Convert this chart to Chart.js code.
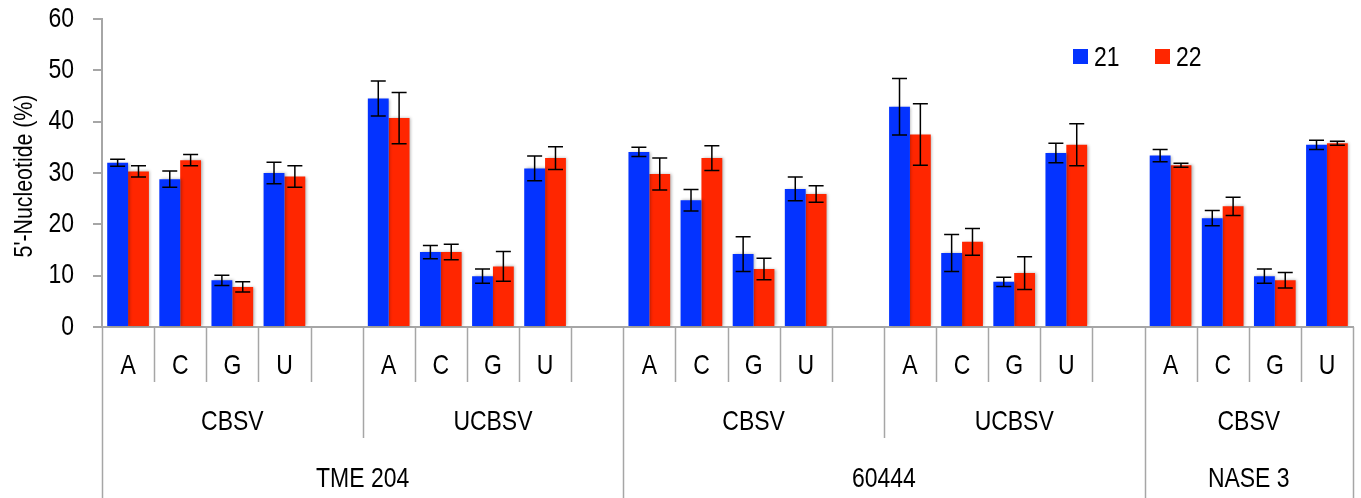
<!DOCTYPE html>
<html>
<head>
<meta charset="utf-8">
<script src="https://cdn.jsdelivr.net/npm/chart.js@4.4.1/dist/chart.umd.min.js"></script>
<style>
    html, body { margin: 0; padding: 0; background: #fff; }
    #wrap { position: relative; width: 1361px; height: 498px; }
</style>
</head>
<body>
<div id="wrap"><canvas id="nucleotideChart"></canvas></div>
<script>
// category rows (innermost first)
const nucleotideLabels = ["A", "C", "G", "U", "", "A", "C", "G", "U", "", "A", "C", "G", "U", "", "A", "C", "G", "U", "", "A", "C", "G", "U"];
const virusLabels = ["CBSV", "UCBSV", "CBSV", "UCBSV", "CBSV"];
const virusSpans = [5, 5, 5, 5, 4];
const cultivarLabels = ["TME 204", "60444", "NASE 3"];
const cultivarSpans = [10, 10, 4];

// series values (%) and error bar sizes
const seriesNames = ["21", "22"];
const values21 = [32.0, 28.8, 9.1, 30.0, null, 44.5, 14.6, 9.9, 30.9, null, 34.1, 24.7, 14.2, 26.9, null, 42.9, 14.4, 8.8, 33.9, null, 33.4, 21.2, 9.9, 35.5];
const errors21 = [0.7, 1.6, 1.0, 2.1, null, 3.4, 1.3, 1.4, 2.4, null, 0.9, 2.1, 3.4, 2.3, null, 5.5, 3.6, 0.9, 1.9, null, 1.2, 1.5, 1.4, 0.9];
const values22 = [30.3, 32.5, 7.8, 29.3, null, 40.7, 14.6, 11.8, 32.9, null, 29.8, 32.9, 11.3, 25.9, null, 37.5, 16.6, 10.5, 35.5, null, 31.5, 23.5, 9.1, 35.8];
const errors22 = [1.1, 1.1, 1.0, 2.1, null, 5.0, 1.5, 2.9, 2.2, null, 3.1, 2.4, 2.1, 1.6, null, 6.0, 2.6, 3.2, 4.1, null, 0.4, 1.8, 1.5, 0.4];

const yMin = 0, yMax = 60, yStep = 10;
const yTitle = "5'-Nucleotide (%)";

const colors = {
    blue: "#0433ff",
    red: "#ff2600",
    axis: "#a6a6a6",
    text: "#000",
};
const FONT = "'Liberation Sans', Arial, sans-serif";
const NARROW = 0.82; // the original uses a narrow Helvetica

// draw horizontally condensed text
function narrowText(ctx, text, x, y, align) {
    ctx.save();
    ctx.translate(x, y);
    ctx.scale(NARROW, 1);
    ctx.textAlign = align || "center";
    ctx.fillText(text, 0, 0);
    ctx.restore();
}

// drop shadow behind bars, like the Excel original
const barShadow = {
    id: "barShadow",
    beforeDatasetsDraw(chart) {
        const ctx = chart.ctx;
        ctx.save();
        ctx.shadowColor = "rgba(0,0,0,0.3)";
        ctx.shadowBlur = 3;
        ctx.shadowOffsetX = 1.5;
        ctx.shadowOffsetY = 0;
    },
    afterDatasetsDraw(chart) {
        chart.ctx.restore();
    },
};

const errorBars = {
    id: "errorBars",
    afterDatasetsDraw(chart) {
        const ctx = chart.ctx;
        const y = chart.scales.y;
        ctx.save();
        ctx.strokeStyle = "#000";
        ctx.lineWidth = 1.5;
        chart.data.datasets.forEach((ds, i) => {
            const meta = chart.getDatasetMeta(i);
            meta.data.forEach((bar, j) => {
                const v = ds.data[j], e = ds.errors[j];
                if (v == null || e == null) return;
                const top = y.getPixelForValue(v + e);
                const bot = y.getPixelForValue(v - e);
                const cap = 7.5;
                ctx.beginPath();
                ctx.moveTo(bar.x, top); ctx.lineTo(bar.x, bot);
                ctx.moveTo(bar.x - cap, top); ctx.lineTo(bar.x + cap, top);
                ctx.moveTo(bar.x - cap, bot); ctx.lineTo(bar.x + cap, bot);
                ctx.stroke();
            });
        });
        ctx.restore();
    },
};

// y tick labels and title, condensed
const yAxisText = {
    id: "yAxisText",
    afterDraw(chart) {
        const ctx = chart.ctx;
        const y = chart.scales.y;
        ctx.save();
        ctx.fillStyle = colors.text;
        ctx.textBaseline = "middle";
        ctx.font = "28px " + FONT;
        y.ticks.forEach(t => {
            narrowText(ctx, String(t.value), y.right - 28, y.getPixelForValue(t.value), "right");
        });
        ctx.font = "26px " + FONT;
        ctx.translate(25, (chart.chartArea.top + chart.chartArea.bottom) / 2 + 3);
        ctx.rotate(-Math.PI / 2);
        narrowText(ctx, yTitle, 0, 0, "center");
        ctx.restore();
    },
};

// three-level category axis drawn under the plot
const multiLevelAxis = {
    id: "multiLevelAxis",
    afterDraw(chart) {
        const ctx = chart.ctx;
        const x = chart.scales.x;
        const n = nucleotideLabels.length;
        const catW = x.width / n;
        const top = x.top;
        const rowBottoms = [top + 55, top + 111, chart.height];
        const rowText = [top + 39, top + 95, top + 152];
        const edge = (k) => x.left + k * catW;

        const starts = (spans) => {
            const out = [0];
            spans.forEach(s => out.push(out[out.length - 1] + s));
            return out;
        };
        const virusEdges = starts(virusSpans);
        const cultEdges = starts(cultivarSpans);

        ctx.save();
        ctx.strokeStyle = colors.axis;
        ctx.lineWidth = 1.5;
        for (let k = 0; k <= n; k++) {
            let bottom = rowBottoms[0];
            if (cultEdges.includes(k)) bottom = rowBottoms[2];
            else if (virusEdges.includes(k)) bottom = rowBottoms[1];
            const px = Math.round(edge(k)) + 0.5;
            ctx.beginPath();
            ctx.moveTo(px, top);
            ctx.lineTo(px, bottom);
            ctx.stroke();
        }

        ctx.fillStyle = colors.text;
        ctx.font = "28px " + FONT;
        ctx.textBaseline = "middle";
        nucleotideLabels.forEach((lab, k) => {
            if (lab) narrowText(ctx, lab, x.getPixelForValue(k), rowText[0]);
        });
        virusLabels.forEach((lab, i) => {
            const a = edge(virusEdges[i]), b = edge(virusEdges[i + 1]);
            narrowText(ctx, lab, (a + b) / 2, rowText[1]);
        });
        cultivarLabels.forEach((lab, i) => {
            const a = edge(cultEdges[i]), b = edge(cultEdges[i + 1]);
            narrowText(ctx, lab, (a + b) / 2, rowText[2]);
        });
        ctx.restore();
    },
};

const insideLegend = {
    id: "insideLegend",
    afterDraw(chart) {
        const ctx = chart.ctx;
        const xs = [1073, 1155];
        ctx.save();
        ctx.font = "28px " + FONT;
        ctx.textBaseline = "middle";
        chart.data.datasets.forEach((ds, i) => {
            ctx.fillStyle = ds.backgroundColor;
            ctx.fillRect(xs[i], 49, 15, 15);
            ctx.fillStyle = colors.text;
            narrowText(ctx, ds.label, xs[i] + 21, 58, "left");
        });
        ctx.restore();
    },
};

new Chart(document.getElementById("nucleotideChart").getContext("2d"), {
    type: "bar",
    data: {
        labels: nucleotideLabels,
        datasets: [
            {
                label: seriesNames[0],
                data: values21,
                errors: errors21,
                backgroundColor: colors.blue,
                categoryPercentage: 0.8,
                barPercentage: 1.0,
            },
            {
                label: seriesNames[1],
                data: values22,
                errors: errors22,
                backgroundColor: colors.red,
                categoryPercentage: 0.8,
                barPercentage: 1.0,
            },
        ],
    },
    options: {
        responsive: true,
        maintainAspectRatio: false,
        animation: false,
        layout: {
            padding: { top: 19, right: 8, bottom: 0, left: 0 },
        },
        plugins: {
            legend: { display: false },
            tooltip: { enabled: false },
        },
        scales: {
            x: {
                grid: { display: false },
                border: { color: colors.axis, width: 2 },
                ticks: { display: false },
                afterFit(scale) {
                    scale.height = 171;
                    scale.paddingLeft = 0;
                    scale.paddingRight = 0;
                },
            },
            y: {
                min: yMin,
                max: yMax,
                grid: {
                    drawOnChartArea: false,
                    drawTicks: true,
                    tickLength: 9,
                    color: colors.axis,
                    lineWidth: 2,
                },
                border: { color: colors.axis, width: 2 },
                ticks: { stepSize: yStep, display: false },
                afterFit(scale) {
                    scale.width = 102;
                    scale.paddingTop = 0;
                    scale.paddingBottom = 0;
                },
            },
        },
    },
    plugins: [barShadow, errorBars, yAxisText, multiLevelAxis, insideLegend],
});
</script>
</body>
</html>
